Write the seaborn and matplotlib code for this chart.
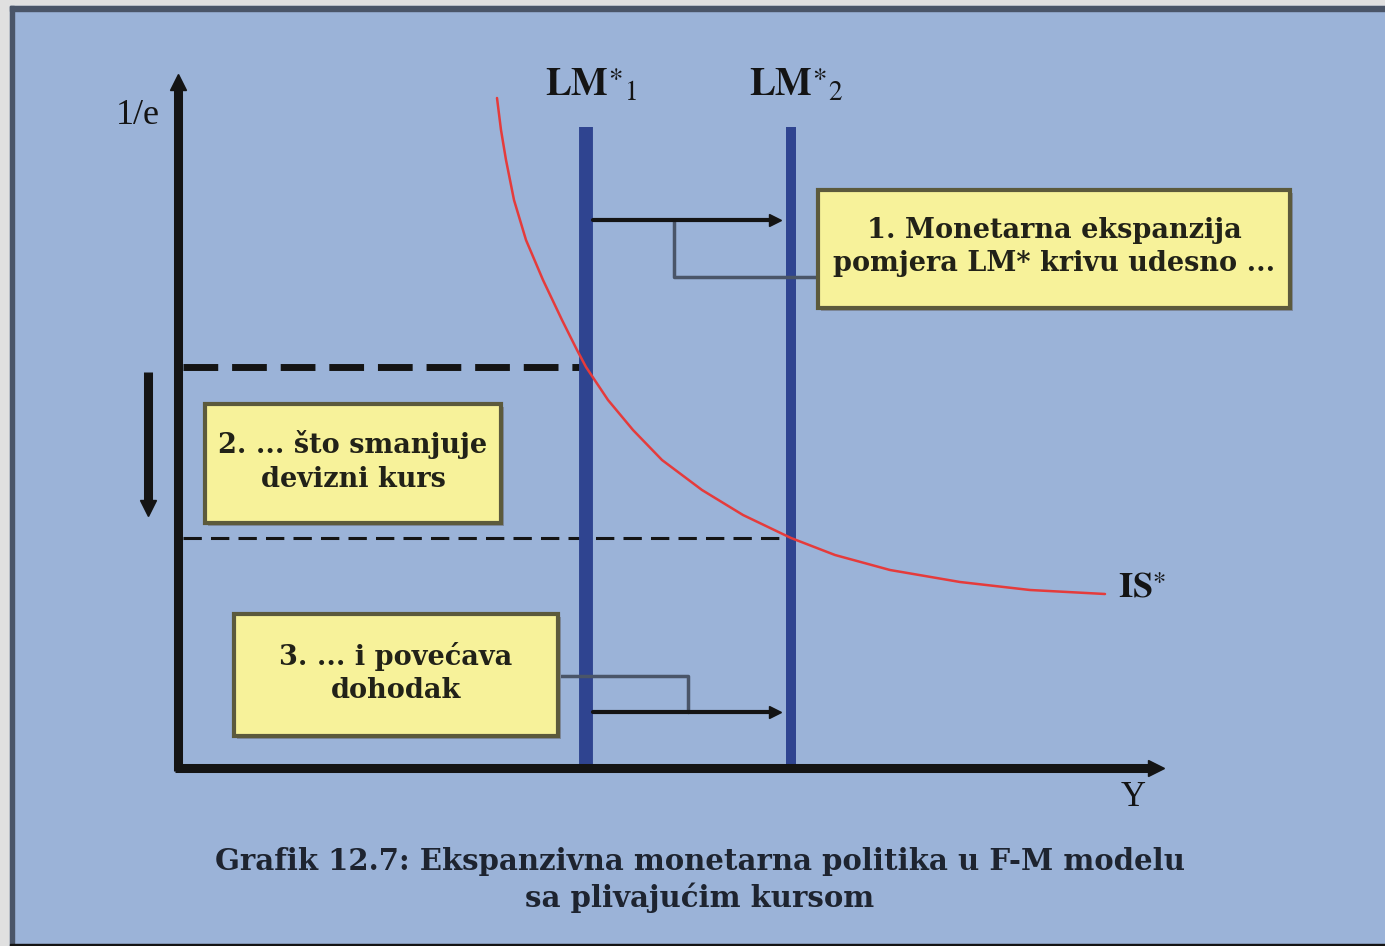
import numpy as np
import pandas as pd
import matplotlib
matplotlib.use("Agg")
import matplotlib.pyplot as plt
from matplotlib.patches import Rectangle
import seaborn as sns

sns.set_theme(style="white")
plt.rcParams['font.family'] = ['Liberation Serif', 'DejaVu Serif']
plt.rcParams['mathtext.fontset'] = 'stix'

# IS* curve (output Y, exchange rate 1/e), model units
is_y = [3.19, 3.23, 3.28, 3.36, 3.48, 3.65, 3.84, 3.99, 4.08, 4.30,
        4.55, 4.84, 5.24, 5.65, 6.13, 6.57, 7.12, 7.82, 8.52, 9.27]
is_rate = [6.70, 6.38, 6.08, 5.68, 5.28, 4.88, 4.48, 4.18, 4.01, 3.68,
           3.38, 3.08, 2.78, 2.53, 2.30, 2.13, 1.98, 1.86, 1.78, 1.74]

# vertical LM* curves and the two equilibrium exchange rates
lm_y = [4.08, 6.13]
lm_labels = [r'$\mathbf{LM}^{\ast}{}_{1}$', r'$\mathbf{LM}^{\ast}{}_{2}$']
eq_rate = [4.01, 2.30]

box_texts = [
    "1. Monetarna ekspanzija\npomjera LM* krivu udesno ...",
    "2. ... što smanjuje\ndevizni kurs",
    "3. ... i povećava\ndohodak",
]
caption = "Grafik 12.7: Ekspanzivna monetarna politika u F-M modelu\nsa plivajućim kursom"

bg = '#9BB3D8'
dark = '#141414'
lm_blue = '#2F4490'
yellow = '#F7F29A'

fig = plt.figure(figsize=(13.85, 9.46), dpi=100)
fig.patch.set_facecolor('#E0E0E0')
ax = fig.add_axes([0, 0, 1, 1])
ax.set_xlim(-1.78, 12.07)
ax.set_ylim(-1.78, 7.68)
ax.axis('off')

# frame: blue panel with dark bars on left / top
ax.add_patch(Rectangle((0.0072, 0), 0.9928, 0.9937, transform=ax.transAxes, color=bg, zorder=0.4))
ax.add_patch(Rectangle((0.0072, 0), 0.0031, 0.9937, transform=ax.transAxes, color='#4A5568', zorder=0.6))
ax.add_patch(Rectangle((0.0072, 0.9884), 0.9928, 0.0053, transform=ax.transAxes, color='#4A5568', zorder=0.6))
ax.add_patch(Rectangle((0.0072, 0), 0.9928, 0.002, transform=ax.transAxes, color=dark, zorder=0.6))

# axes with arrows
ax.plot([0, 0], [-0.03, 6.85], color=dark, lw=6.5, solid_capstyle='butt', zorder=5)
ax.plot([0], [6.86], marker='^', ms=11, color=dark, zorder=5)
ax.plot([-0.03, 9.75], [0, 0], color=dark, lw=6.5, solid_capstyle='butt', zorder=5)
ax.plot([9.78], [0], marker='>', ms=11, color=dark, zorder=5)

# dashed exchange rate levels
ax.plot([0.05, lm_y[0]], [eq_rate[0], eq_rate[0]], color=dark, lw=5, dashes=(5, 2), zorder=3)
ax.plot([0.05, lm_y[1]], [eq_rate[1], eq_rate[1]], color=dark, lw=2.2, dashes=(6, 3), zorder=3)

# LM* curves
ax.plot([lm_y[0], lm_y[0]], [0, 6.41], color=lm_blue, lw=10, solid_capstyle='butt', zorder=4)
ax.plot([lm_y[1], lm_y[1]], [0, 6.41], color=lm_blue, lw=7.2, solid_capstyle='butt', zorder=4)
for xv, lab in zip(lm_y, lm_labels):
    ax.text(xv + 0.05, 6.82, lab, ha='center', va='center', fontsize=28, color=dark)

# IS* curve
sns.lineplot(x=is_y, y=is_rate, sort=False, color='#E53B3B', lw=1.8, ax=ax, zorder=4)
ax.text(9.40, 1.80, r'$\mathbf{IS}^{\ast}$', ha='left', va='center', fontsize=26, color=dark)

# axis labels
ax.text(-0.40, 6.53, '1/e', ha='center', va='center', fontsize=26, color=dark)
ax.text(9.55, -0.29, 'Y', ha='center', va='center', fontsize=25, color=dark)

# down arrow (exchange rate falls)
ax.plot([-0.30, -0.30], [3.96, 2.62], color=dark, lw=6.5, solid_capstyle='butt', zorder=5)
ax.plot([-0.30], [2.60], marker='v', ms=11, color=dark, zorder=5)

# shift arrows between LM curves
for yv in [5.48, 0.56]:
    ax.plot([4.15, 5.95], [yv, yv], color=dark, lw=3, zorder=5)
    ax.plot([5.97], [yv], marker='>', ms=9, color=dark, zorder=5)

# connectors from boxes
ax.plot([4.96, 4.96, 6.40], [5.48, 4.91, 4.91], color='#4A5568', lw=2.5, zorder=4.5)
ax.plot([3.77, 5.10, 5.10], [0.92, 0.92, 0.56], color='#4A5568', lw=2.5, zorder=4.5)

# yellow boxes
boxes = [(6.40, 4.60, 4.72, 1.18), (0.27, 2.45, 2.96, 1.19), (0.56, 0.32, 3.24, 1.22)]
for (bx, by, bw, bh), txt in zip(boxes, box_texts):
    ax.add_patch(Rectangle((bx + 0.03, by - 0.03), bw, bh, facecolor='#7F8AA0', edgecolor='none', zorder=5.5))
    ax.add_patch(Rectangle((bx, by), bw, bh, facecolor=yellow, edgecolor='#5C5A3C', lw=3, zorder=6))
    ax.text(bx + bw / 2, by + bh / 2 + 0.02, txt, ha='center', va='center', fontsize=19.5,
            fontweight='bold', family='DejaVu Serif', color='#222218', linespacing=1.3, zorder=7)

# caption
ax.text(5.22, -1.12, caption, ha='center', va='center', fontsize=21, fontweight='bold',
        family='DejaVu Serif', color='#1E2430', linespacing=1.27)

fig.savefig('out.png', dpi=100, facecolor=fig.get_facecolor())
